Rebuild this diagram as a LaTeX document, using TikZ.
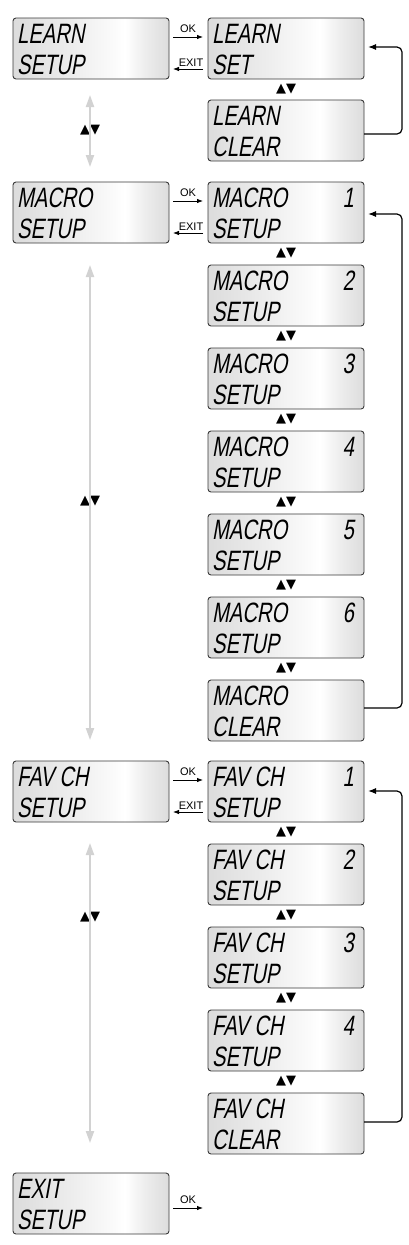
\documentclass[tikz,border=0pt]{standalone}
\usepackage{fontspec}
\setmainfont{Liberation Sans}
\newfontfamily\lcdfont[FakeStretch=0.72,FakeSlant=0.18]{Liberation Sans}
\newfontfamily\symfont{DejaVu Sans}
\usetikzlibrary{arrows.meta}
\definecolor{lcdg}{HTML}{DCDCDC}
\definecolor{lcdl}{HTML}{EEEEEE}
\definecolor{lcdborder}{HTML}{3A3A3A}
\definecolor{guide}{HTML}{D2D2D2}
\pgfdeclarehorizontalshading{lcdshade}{100bp}{color(0bp)=(lcdg); color(25bp)=(lcdg); color(45bp)=(lcdl); color(61bp)=(white); color(67bp)=(lcdl); color(75bp)=(lcdg); color(100bp)=(lcdg)}
\tikzset{
  lcdbox/.style={draw=lcdborder, line width=0.9pt, rounded corners=3pt, shading=lcdshade,
    minimum width=156pt, minimum height=61pt, inner sep=0pt, outer sep=0pt, anchor=north west},
  lcdtext/.style={font=\lcdfont\fontsize{28}{28}\selectfont, anchor=base west, inner sep=0pt},
  lcdnum/.style={font=\lcdfont\fontsize{28}{28}\selectfont, anchor=base east, inner sep=0pt},
  keyarrow/.style={-{Latex[length=6pt,width=4.5pt]}, line width=0.8pt, black},
  keylabel/.style={font=\fontsize{11}{11}\selectfont, inner sep=0pt, anchor=base},
  guidearrow/.style={guide, line width=2pt, -{Triangle[length=12pt,width=8pt]}},
  loopback/.style={line width=1.2pt, rounded corners=5pt, -{Latex[length=8pt,width=6pt]}},
  updown/.style={font=\symfont\fontsize{13}{13}\selectfont, inner sep=0pt},
}
% name, x, y, line1, line2, digit
\newcommand\lcdpanel[6]{%
  \node[lcdbox] (#1) at (#2,#3) {};
  \node[lcdtext] (#1-a) at ([xshift=4pt,yshift=-25pt]#1.north west) {#4};
  \node[lcdtext] (#1-b) at ([xshift=4pt,yshift=-56pt]#1.north west) {#5};
  \if\relax\detokenize{#6}\relax\else
    \node[lcdnum] (#1-n) at ([xshift=-10pt,yshift=-25pt]#1.north east) {#6};
  \fi
}
% left name, right name
\newcommand\okexit[2]{%
  \draw[keyarrow] ([xshift=4pt,yshift=-19pt]#1.north east) -- ([xshift=-5pt,yshift=-19pt]#2.north west);
  \node[keylabel] (#1-ok) at ([xshift=19pt,yshift=-14pt]#1.north east) {OK};
  \draw[keyarrow] ([xshift=-5pt,yshift=-51pt]#2.north west) -- ([xshift=4pt,yshift=-51pt]#1.north east);
  \node[keylabel] (#1-exit) at ([xshift=22pt,yshift=-48pt]#1.north east) {EXIT};
}
% between two panels stacked
\newcommand\udsym[2]{%
  \node[updown] (#1-#2-ud) at ([yshift=-71pt]#1.north) {▲▼};
}
\begin{document}
\begin{tikzpicture}[x=1pt,y=-1pt]
\useasboundingbox[fill=white] (0,0) rectangle (409,1245);

% ---- LEARN ----
\lcdpanel{LS}{13}{18}{LEARN}{SETUP}{}
\lcdpanel{LSET}{208}{18}{LEARN}{SET}{}
\lcdpanel{LCLR}{208}{100}{LEARN}{CLEAR}{}
\okexit{LS}{LSET}
\udsym{LSET}{LCLR}
\draw[loopback] ([yshift=-34pt]LCLR.north east) -- ++(38pt,0) |- ([xshift=4pt,yshift=-29pt]LSET.north east);
\node[updown] (lud) at (90,130) {▲▼};
\coordinate (lupT) at (90,95);
\coordinate (ldnT) at (90,167);
\draw[guidearrow] ([yshift=-7pt]lud.center) -- (lupT);
\draw[guidearrow] ([yshift=7pt]lud.center) -- (ldnT);

% ---- MACRO ----
\lcdpanel{MS}{13}{182}{MACRO}{SETUP}{}
\lcdpanel{M1}{208}{182}{MACRO}{SETUP}{1}
\lcdpanel{M2}{208}{265}{MACRO}{SETUP}{2}
\lcdpanel{M3}{208}{348}{MACRO}{SETUP}{3}
\lcdpanel{M4}{208}{431}{MACRO}{SETUP}{4}
\lcdpanel{M5}{208}{514}{MACRO}{SETUP}{5}
\lcdpanel{M6}{208}{597}{MACRO}{SETUP}{6}
\lcdpanel{MC}{208}{680}{MACRO}{CLEAR}{}
\okexit{MS}{M1}
\udsym{M1}{M2}
\udsym{M2}{M3}
\udsym{M3}{M4}
\udsym{M4}{M5}
\udsym{M5}{M6}
\udsym{M6}{MC}
\draw[loopback] ([yshift=-28pt]MC.north east) -- ++(38pt,0) |- ([xshift=4pt,yshift=-32pt]M1.north east);
\node[updown] (mud) at (90,501) {▲▼};
\coordinate (mupT) at (90,265);
\coordinate (mdnT) at (90,740);
\draw[guidearrow] ([yshift=-7pt]mud.center) -- (mupT);
\draw[guidearrow] ([yshift=7pt]mud.center) -- (mdnT);

% ---- FAV CH ----
\lcdpanel{FS}{13}{761}{FAV CH}{SETUP}{}
\lcdpanel{F1}{208}{761}{FAV CH}{SETUP}{1}
\lcdpanel{F2}{208}{844}{FAV CH}{SETUP}{2}
\lcdpanel{F3}{208}{927}{FAV CH}{SETUP}{3}
\lcdpanel{F4}{208}{1010}{FAV CH}{SETUP}{4}
\lcdpanel{FC}{208}{1093}{FAV CH}{CLEAR}{}
\okexit{FS}{F1}
\udsym{F1}{F2}
\udsym{F2}{F3}
\udsym{F3}{F4}
\udsym{F4}{FC}
\draw[loopback] ([yshift=-29pt]FC.north east) -- ++(38pt,0) |- ([xshift=4pt,yshift=-30pt]F1.north east);
\node[updown] (fud) at (90,917) {▲▼};
\coordinate (fupT) at (90,843);
\coordinate (fdnT) at (90,1143);
\draw[guidearrow] ([yshift=-7pt]fud.center) -- (fupT);
\draw[guidearrow] ([yshift=7pt]fud.center) -- (fdnT);

% ---- EXIT ----
\lcdpanel{ES}{13}{1173}{EXIT}{SETUP}{}
\coordinate (eEnd) at (203,1208);
\draw[keyarrow] ([xshift=4pt,yshift=-35pt]ES.north east) -- (eEnd);
\node[keylabel] (ES-ok) at ([xshift=19pt,yshift=-30pt]ES.north east) {OK};
\end{tikzpicture}
\end{document}
